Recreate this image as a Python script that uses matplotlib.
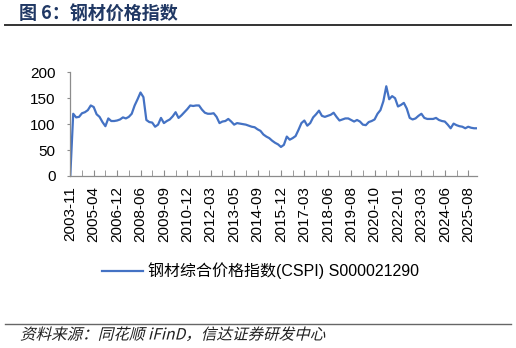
import matplotlib.pyplot as plt
import numpy as np
from matplotlib.textpath import TextPath
from matplotlib.patches import PathPatch
from matplotlib.font_manager import FontProperties
from matplotlib.transforms import Affine2D

plt.rcParams['font.family'] = ['Liberation Sans', 'Noto Sans CJK SC', 'DejaVu Sans']

# CSPI index (evenly spaced samples along the category axis)
cspi = [0, 120, 113, 114, 121, 123, 127, 136, 133, 119,
        114, 104, 96, 111, 106, 106, 107, 109, 113, 111,
        114, 120, 136, 148, 161, 152, 108, 104, 103, 95,
        99, 112, 102, 106, 109, 115, 123, 112, 117, 123,
        129, 136, 135, 136, 136, 128, 122, 120, 120, 121,
        114, 102, 105, 106, 110, 105, 99, 102, 101, 100,
        99, 97, 95, 94, 90, 87, 80, 76, 73, 68,
        64, 61, 56, 60, 76, 70, 73, 77, 89, 102,
        107, 97, 102, 113, 119, 126, 116, 114, 116, 118,
        122, 114, 107, 109, 111, 111, 108, 105, 108, 105,
        99, 98, 104, 106, 109, 120, 127, 144, 173, 148,
        154, 150, 134, 137, 141, 130, 112, 109, 111, 116,
        120, 112, 110, 110, 110, 112, 108, 106, 105, 99,
        92, 101, 98, 96, 95, 92, 95, 93, 92, 92]

date_labels = ['2003-11', '2005-04', '2006-12', '2008-06', '2009-09', '2010-12',
               '2012-03', '2013-05', '2014-09', '2015-12', '2017-03', '2018-06',
               '2019-08', '2020-10', '2022-01', '2023-03', '2024-06', '2025-08']
yticks = [0, 50, 100, 150, 200]

title = '图 6：钢材价格指数'
series_name = '钢材综合价格指数(CSPI) S000021290'
source = '资料来源：同花顺 iFinD，信达证券研发中心'

fig = plt.figure(figsize=(5.16, 3.48), dpi=100)
ax = fig.add_axes([0.1362, 0.4943, 0.7882, 0.298])

x = np.arange(len(cspi))
ax.plot(x, cspi, color='#4472C4', lw=1.6, label=series_name)

ax.set_xlim(0, len(cspi) - 1)
ax.set_ylim(0, 200)
ax.set_yticks(yticks)
ax.set_xticks(np.arange(0, len(cspi), 4), minor=True)
ax.set_xticks(np.arange(len(date_labels)) * 8)
ax.set_xticklabels(date_labels, rotation=90)

for s in ['top', 'right']:
    ax.spines[s].set_visible(False)
for s in ['left', 'bottom']:
    ax.spines[s].set_color('#8c8c8c')
    ax.spines[s].set_linewidth(0.9)

ax.tick_params(axis='x', which='both', direction='in', length=4, color='#8c8c8c',
               labelsize=11, pad=7)
ax.tick_params(axis='y', direction='out', length=2.5, color='#8c8c8c',
               labelsize=11, pad=8)

fig.legend(loc='center', bbox_to_anchor=(0.505, 0.222), frameon=False,
           handlelength=2.6, handletextpad=0.3, fontsize=11.5)

# title and rules
fig.text(0.037, 0.958, title, fontsize=13, fontweight='bold', color='#203864',
         va='center', family=['Noto Sans CJK SC', 'DejaVu Sans'])
fig.add_artist(plt.Line2D([0.01, 0.99], [0.928, 0.928], color='#333333', lw=1.4))
fig.add_artist(plt.Line2D([0.01, 0.99], [0.069, 0.069], color='#666666', lw=1.0))

# source note, slanted like the original (the CJK font has no italic)
fp = FontProperties(family='Noto Sans CJK SC', size=11.2)
tp = TextPath((0, 0), source, prop=fp)
tr = Affine2D().skew_deg(14, 0).scale(fig.dpi / 72).translate(20, 8.5)
fig.add_artist(PathPatch(tp, transform=tr, facecolor='#222222', edgecolor='none'))

fig.savefig('out.png', dpi=100)
